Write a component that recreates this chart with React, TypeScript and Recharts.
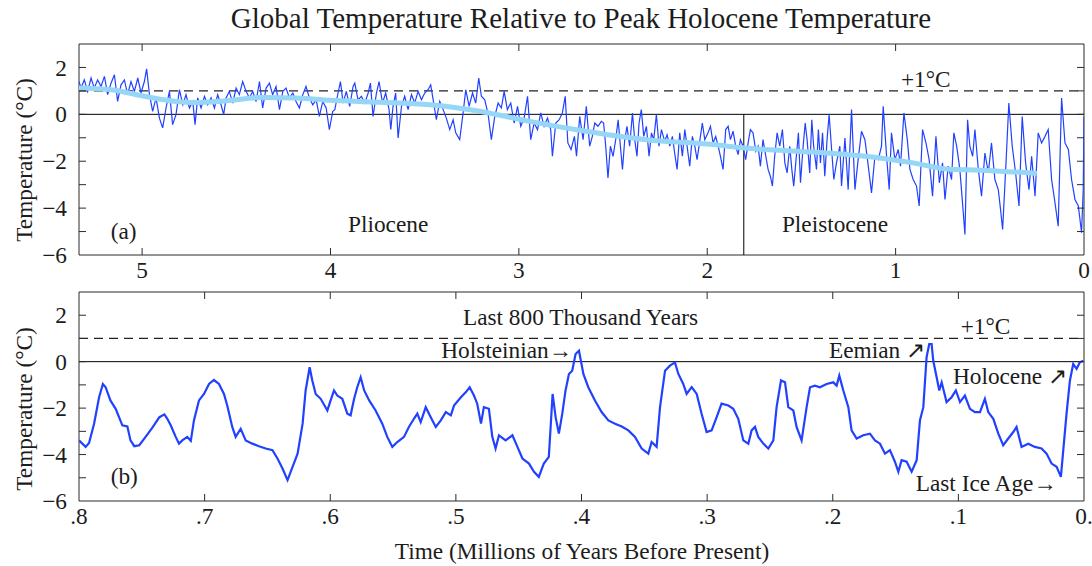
import { LineChart, Line, XAxis, YAxis, ReferenceLine, ReferenceArea, ReferenceDot } from 'recharts'

// Pliocene–Pleistocene record, [age Ma, temperature °C relative to peak Holocene]
const last5MaRecord: [number, number][] = [
  [5.335, 1.4], [5.324, 1.12], [5.307, 1.47], [5.289, 0.98], [5.271, 1.55], [5.254, 1.12], [5.236, 1.47], [5.218, 1.19],
  [5.2, 1.62], [5.183, 0.84], [5.165, 1.33], [5.147, 1.69], [5.13, 0.55], [5.112, 1.26], [5.094, 1.47], [5.077, 0.84],
  [5.059, 1.4], [5.041, 0.98], [5.023, 1.55], [5.006, 0.91], [4.988, 1.4], [4.976, 1.94], [4.961, 0.84], [4.944, 0.13],
  [4.926, 0.7], [4.908, -0.16], [4.891, -0.58], [4.873, 0.27], [4.855, 0.98], [4.838, -0.44], [4.82, -0.01], [4.802, 1.05],
  [4.784, 0.41], [4.767, 0.84], [4.749, 0.27], [4.731, 0.55], [4.719, -0.44], [4.705, 0.7], [4.687, 0.27], [4.669, 0.77],
  [4.652, 0.41], [4.634, 0.7], [4.616, 0.27], [4.599, 0.84], [4.581, 0.41], [4.567, -0.01], [4.554, 0.7], [4.537, 0.98],
  [4.519, 0.48], [4.501, 1.12], [4.484, 0.84], [4.466, 1.4], [4.448, 0.98], [4.43, 0.7], [4.413, 0.98], [4.395, 0.55],
  [4.377, 1.4], [4.36, 0.27], [4.342, 1.12], [4.324, 1.33], [4.307, 0.84], [4.289, 1.19], [4.271, 0.2], [4.253, 0.98],
  [4.236, 1.12], [4.218, 0.7], [4.2, 0.91], [4.183, 0.55], [4.165, 0.27], [4.147, 0.84], [4.13, 1.19], [4.112, 0.7],
  [4.094, 0.41], [4.076, 0.62], [4.059, -0.09], [4.041, 0.55], [4.023, 0.27], [4.006, -0.65], [3.988, 0.13],
  [3.977, 0.2], [3.96, 0.91], [3.947, 1.4], [3.933, 0.48], [3.916, 0.98], [3.898, 0.34], [3.88, 1.19], [3.871, 1.33],
  [3.854, 0.62], [3.836, 0.77], [3.818, 0.48], [3.8, 0.91], [3.788, 1.33], [3.774, -0.09], [3.756, 0.91], [3.742, 1.4],
  [3.724, 0.48], [3.707, 0.91], [3.689, 0.2], [3.68, -0.65], [3.668, 0.34], [3.654, 0.91], [3.641, -1.01], [3.623, 0.34],
  [3.606, 0.77], [3.588, 0.2], [3.57, 0.84], [3.553, 0.48], [3.535, 0.98], [3.517, 0.62], [3.5, 0.91], [3.482, 1.05],
  [3.468, 1.26], [3.452, 0.48], [3.438, -0.23], [3.42, 0.55], [3.402, 0.2], [3.385, -0.16], [3.367, -0.65], [3.349, -0.23],
  [3.335, -0.79], [3.314, -1.08], [3.296, 0.06], [3.282, 1.05], [3.264, 0.34], [3.246, 0.91], [3.229, 0.48], [3.213, 1.55],
  [3.199, 0.77], [3.181, 0.62], [3.163, -0.01], [3.146, -1.08], [3.128, -0.09], [3.11, 0.48], [3.093, 0.27], [3.078, 0.98],
  [3.061, 0.2], [3.043, 0.48], [3.025, -0.37], [3.007, 0.34], [2.99, -0.51], [2.972, -0.16], [2.954, 0.77], [2.937, -1.08],
  [2.919, -0.37], [2.901, -0.65], [2.884, 0.06], [2.866, -0.51], [2.848, -0.16], [2.831, -0.65], [2.822, -1.79], [2.804, -0.37],
  [2.786, -0.23], [2.769, 0.06], [2.754, 0.77], [2.74, -1.22], [2.723, -1.5], [2.705, -0.94], [2.694, -1.79], [2.677, -0.09],
  [2.659, -1.08], [2.642, 0.34], [2.624, -1.36], [2.61, -0.94], [2.597, -0.37], [2.58, -0.51], [2.562, -0.3], [2.55, -0.37],
  [2.539, -1.36], [2.527, -2.71], [2.514, -1.36], [2.5, -1.79], [2.486, -1.08], [2.473, -0.23], [2.461, -1.36], [2.45, -2.35],
  [2.438, -1.08], [2.426, -0.51], [2.412, -1.36], [2.397, 0.06], [2.385, -1.08], [2.373, -1.79], [2.362, -0.37], [2.35, 0.2],
  [2.337, -0.94], [2.323, -0.51], [2.309, -1.79], [2.296, -0.79], [2.284, -1.08], [2.27, -0.01], [2.256, -1.36], [2.243, -0.65],
  [2.226, -1.15], [2.213, -0.87], [2.199, -1.36], [2.185, -0.94], [2.173, -1.65], [2.16, -2.35], [2.146, -0.79], [2.132, -1.79],
  [2.119, -0.65], [2.107, -1.36], [2.093, -2.21], [2.079, -0.94], [2.066, -1.36], [2.054, -1.93], [2.04, -1.15], [2.026, -0.37],
  [2.013, -1.08], [1.996, -0.79], [1.983, -0.51], [1.969, -1.22], [1.955, -0.94], [1.942, -1.36], [1.93, -1.79], [1.916, -2.35],
  [1.902, -0.65], [1.889, -0.51], [1.877, -1.08], [1.863, -0.72], [1.849, -1.36], [1.836, -1.72], [1.824, -1.08], [1.81, -1.36],
  [1.796, -1.93], [1.783, -1.22], [1.771, -0.65], [1.757, -0.79], [1.742, -1.57], [1.73, -1.36], [1.718, -2.21], [1.704, -1.08],
  [1.689, -1.79], [1.677, -2.35], [1.665, -2.64], [1.654, -3.06], [1.642, -1.79], [1.629, -0.79], [1.615, -1.36], [1.601, -0.65],
  [1.588, -2.07], [1.576, -2.5], [1.562, -1.36], [1.551, -2.35], [1.541, -3.06], [1.527, -1.79], [1.516, -0.79], [1.505, -2.92],
  [1.491, -1.36], [1.48, -0.37], [1.47, -1.08], [1.456, -2.5], [1.445, -0.23], [1.435, -1.36], [1.42, -2.35], [1.41, -0.65],
  [1.399, -2.07], [1.388, -0.79], [1.376, -2.64], [1.364, -1.08], [1.353, -0.01], [1.341, -1.36], [1.328, -2.78],
  [1.314, -2.07], [1.296, -1.36], [1.287, -3.06], [1.269, -1.01], [1.252, -3.21], [1.234, 0.2], [1.216, -3.21], [1.199, -1.93],
  [1.181, -0.72], [1.163, -1.08], [1.145, -2.21], [1.128, -3.35], [1.11, -1.79], [1.092, -1.93], [1.075, -1.36], [1.066, 0.34],
  [1.048, -1.79], [1.034, -3.21], [1.022, -0.79], [1.004, -1.93], [0.986, -1.5], [0.974, -2.21], [0.956, 0.06], [0.938, -1.08],
  [0.924, -2.35], [0.907, -2.78], [0.889, -3.06], [0.875, -3.91], [0.857, -0.65], [0.839, -1.22], [0.822, -1.93], [0.804, -3.49],
  [0.786, -0.94], [0.768, -2.92], [0.751, -2.07], [0.738, -3.63], [0.721, -2.21], [0.703, -2.78], [0.691, -0.79], [0.676, -1.36],
  [0.659, -2.35], [0.645, -3.77], [0.632, -5.12], [0.618, -0.23], [0.606, -1.36], [0.591, -1.79], [0.579, -0.65], [0.561, -2.35],
  [0.544, -3.49], [0.526, -1.65], [0.508, -2.5], [0.491, -1.22], [0.473, -2.78], [0.455, -3.21], [0.443, -4.06], [0.432, -4.91],
  [0.414, -2.07], [0.399, 0.48], [0.381, -1.36], [0.363, -2.5], [0.345, -3.91], [0.328, -0.09], [0.31, -2.07], [0.292, -3.21],
  [0.278, -1.79], [0.26, -3.49], [0.243, -0.79], [0.225, -1.22], [0.207, -0.94], [0.19, -0.65], [0.172, -2.78], [0.154, -3.77],
  [0.137, -4.77], [0.119, 0.7], [0.101, -1.22], [0.083, -1.5], [0.066, -2.78], [0.048, -3.63], [0.03, -3.91], [0.013, -5.05],
  [0.004, -3.2], [0, -0.1],
]

// smoothed long-term trend, [age Ma, °C]
const last5MaTrend: [number, number][] = [
  [5.335, 1.12], [5.165, 1.05], [4.988, 0.77], [4.82, 0.55], [4.73, 0.5], [4.55, 0.58], [4.36, 0.72], [4.18, 0.7],
  [4.004, 0.6], [3.739, 0.52], [3.473, 0.41], [3.207, 0.13], [3.119, -0.01], [2.942, -0.3], [2.677, -0.68], [2.323, -1.08],
  [1.969, -1.29], [1.81, -1.43], [1.323, -1.67], [1.083, -1.86], [0.907, -2.07], [0.73, -2.33], [0.553, -2.38], [0.25, -2.52],
]

// last 800 thousand years, [age ka, °C]
const last800kaRecord: [number, number][] = [
  [800, -3.39], [794.7, -3.67], [792, -3.5], [788, -2.67], [784, -1.53], [781, -0.96], [778.8, -1.1], [775, -1.67],
  [770.8, -2.03], [765.5, -2.74], [761.5, -2.79], [759, -3.39], [756, -3.64], [752, -3.6], [747, -3.24], [741.6, -2.84],
  [736, -2.39], [732, -2.27], [729.7, -2.46], [727, -2.74], [723, -3.24], [720.4, -3.53], [717.8, -3.39], [713.8, -3.24],
  [711, -3.41], [708.5, -2.53], [704.5, -1.67], [700.5, -1.39], [696.5, -0.96], [692.6, -0.79], [688.6, -0.96], [684.6, -1.39],
  [682, -1.89], [678, -2.81], [675.3, -3.24], [671.3, -2.89], [667.3, -3.39], [662, -3.53], [656.7, -3.64], [651.4, -3.74],
  [646, -3.81], [642, -4.17], [638, -4.6], [634, -5.1], [630, -4.53], [626, -3.96], [622, -2.67], [619.6, -1.24],
  [616.4, -0.24], [614.3, -0.81], [611.6, -1.39], [607.6, -1.6], [602.3, -2.1], [599.7, -1.67], [597, -1.24], [594.4, -1.46],
  [590.4, -1.6], [586.4, -2.24], [583.8, -2.31], [581, -1.6], [578.5, -1.1], [575.8, -0.67], [573, -1.24], [569, -1.67],
  [563.9, -2.1], [558.6, -2.67], [554.6, -3.24], [550.6, -3.67], [546.6, -3.46], [541.3, -3.24], [537.4, -2.81], [533.4, -2.46],
  [530.7, -2.24], [528, -2.6], [524, -1.96], [520, -2.39], [516, -2.81], [512, -2.53], [508, -2.17], [504, -2.31],
  [501.5, -1.89], [496, -1.53], [492, -1.31], [489, -1.1], [485.6, -1.46], [483, -1.81], [480, -2.67], [477.7, -1.96],
  [473.7, -2.03], [471, -3.24], [468.4, -3.74], [465.7, -3.17], [460.4, -3.39], [455, -3.17], [451, -3.67], [447, -4.17],
  [441.8, -4.39], [437.8, -4.74], [434, -4.96], [430, -4.39], [426, -4.1], [423, -1.39], [420.6, -2.39], [418, -3.1],
  [415.3, -2.24], [412.7, -1.24], [410, -0.53], [407.4, -0.39], [404.7, 0.33], [402, 0.47], [398.5, -0.53], [394.6, -1.1],
  [389.3, -1.67], [384, -2.17], [378.6, -2.53], [373.3, -2.67], [368, -2.79], [362.7, -2.96], [357.4, -3.24], [352.1, -3.74],
  [346.8, -3.96], [344.2, -3.46], [340.2, -3.67], [337.5, -1.96], [333.5, -0.39], [329.6, -0.17], [325.6, -0.03], [322.9, -0.53],
  [319, -0.96], [316.3, -1.39], [312.3, -1.1], [308.3, -1.39], [304.4, -2.24], [300.4, -3.03], [296.4, -2.96], [292.4, -2.39],
  [288.5, -1.81], [283.1, -1.89], [279.2, -2.03], [275.2, -2.46], [271.2, -3.39], [267.2, -3.53], [264.6, -2.96], [261.9, -2.81],
  [259.3, -3.24], [255.3, -3.53], [251.3, -3.74], [247.3, -3.39], [244.7, -1.96], [241.2, -0.81], [238, -0.89], [235.4, -1.96],
  [231.4, -2.1], [228.8, -2.81], [224.8, -3.39], [220.8, -1.96], [218.1, -1.1], [214.2, -1.03], [210.2, -1.1], [204.9, -0.96],
  [199.6, -0.89], [196.9, -1.03], [194.8, -0.6], [191.6, -1.24], [187.6, -1.96], [185, -2.96], [181, -3.31], [175.7, -3.17],
  [170.4, -3.1], [166.4, -3.39], [162.4, -3.53], [158.4, -3.96], [154.5, -3.81], [150.5, -4.31], [147.8, -4.74], [145.2, -4.24],
  [141.2, -4.31], [137.2, -4.74], [133.2, -4.24], [130.6, -2.53], [127.9, -1.96], [125.3, 0.19], [123.2, 0.76], [121.3, 0.76],
  [120, 0.04], [117.3, -0.67], [115.2, -1.24], [113.3, -0.89], [109.4, -1.74], [105.4, -1.53], [102, -1.24], [98.7, -1.74],
  [94.8, -1.46], [90.8, -2.03], [86.8, -2.17], [82.8, -2.17], [78.9, -1.6], [76.2, -2.17], [72.2, -2.46], [68.2, -3.1],
  [64.3, -3.6], [60.3, -3.31], [56.3, -3.03], [53.7, -2.81], [49.7, -3.67], [44.4, -3.53], [39.1, -3.67], [33.8, -3.74],
  [29.8, -3.96], [25.8, -4.39], [21.8, -4.53], [18.4, -4.96], [16.5, -3.81], [13.9, -2.24], [11.2, -0.81], [8.6, -0.1],
  [5.9, -0.31], [3.3, -0.03], [0.6, 0.04],
]

const tempTicks = [3, 2, 1, 0, -1, -2, -3, -4, -5, -6]
const tempLabelledTicks = [2, 0, -2, -4, -6]
const topAgeTicks = [5, 4, 3, 2, 1, 0]
const bottomAgeTicks = [800, 700, 600, 500, 400, 300, 200, 100, 0]
const bottomAgeLabels = ['.8', '.7', '.6', '.5', '.4', '.3', '.2', '.1', '0.']

const TOP_AGE_MAX = 5.335
const PLEISTOCENE_START = 1.806

const topData = last5MaRecord.map(([age, t]) => ({ age, t }))
const trendData = last5MaTrend.map(([age, t]) => ({ age, t }))
const bottomData = last800kaRecord.map(([age, t]) => ({ age, t }))

const FONT = '"Liberation Serif", "Times New Roman", serif'
const FS = 23.3
const INK = '#1c1c1c'
const FRAME = '#2b2b2b'
const BLUE = '#2141ff'
const LIGHT = '#96d6f7'
const PLOT_LEFT = 79
const PLOT_RIGHT = 1084

const minus = (v: number) => (v < 0 ? '\u2212' + Math.abs(v) : String(v))

const yTick = (props: any) => {
  const { y, payload } = props
  const v = payload.value as number
  const edge = v === 3 || v === -6
  return (
    <g>
      {!edge && <line x1={PLOT_LEFT} x2={PLOT_LEFT + 7} y1={y} y2={y} stroke={FRAME} />}
      {!edge && <line x1={PLOT_RIGHT - 7} x2={PLOT_RIGHT} y1={y} y2={y} stroke={FRAME} />}
      {tempLabelledTicks.includes(v) && (
        <text x={PLOT_LEFT - 12} y={y} dy="0.35em" textAnchor="end" fontFamily={FONT} fontSize={FS} fill={INK}>
          {minus(v)}
        </text>
      )}
    </g>
  )
}

// plotTop / plotBottom are in the chart's own svg coordinates
const makeXTick = (plotTop: number, plotBottom: number, label: (v: number) => string) => (props: any) => {
  const { x, payload } = props
  const v = payload.value as number
  const edge = x <= PLOT_LEFT + 1 || x >= PLOT_RIGHT - 1
  return (
    <g>
      {!edge && <line x1={x} x2={x} y1={plotBottom} y2={plotBottom - 7} stroke={FRAME} />}
      {!edge && <line x1={x} x2={x} y1={plotTop} y2={plotTop + 7} stroke={FRAME} />}
      <text x={x} y={plotBottom + 23} textAnchor="middle" fontFamily={FONT} fontSize={FS} fill={INK}>
        {label(v)}
      </text>
    </g>
  )
}

const Note = (props: any) => {
  const vb = props.viewBox || {}
  const x = (vb.x ?? 0) + (vb.width ?? 0) / 2
  const y = (vb.y ?? 0) + (vb.height ?? 0) / 2
  return (
    <text x={x} y={y} textAnchor={props.anchor || 'middle'} fontFamily={FONT} fontSize={FS} fill={INK}>
      {props.text}
    </text>
  )
}

const note = (x: number, y: number, text: string, anchor = 'middle') => (
  <ReferenceDot key={text} x={x} y={y} r={0} fill="none" stroke="none" label={<Note text={text} anchor={anchor} />} />
)

const yLabelStyle = (centerY: number): React.CSSProperties => ({
  position: 'absolute',
  left: 24 - 150,
  top: centerY - 15,
  width: 300,
  height: 30,
  lineHeight: '30px',
  textAlign: 'center',
  fontSize: FS,
  transform: 'rotate(-90deg)',
})

export default function App() {
  return (
    <div style={{ position: 'absolute', left: 0, top: 0, width: 1092, height: 566, background: '#fff', fontFamily: FONT, color: INK }}>
      <div style={{ position: 'absolute', left: 581 - 450, top: 3, width: 900, textAlign: 'center', fontSize: 29, lineHeight: '30px' }}>
        Global Temperature Relative to Peak Holocene Temperature
      </div>

      <div style={yLabelStyle(160)}>Temperature (°C)</div>
      <div style={yLabelStyle(409)}>Temperature (°C)</div>

      <div style={{ position: 'absolute', left: 0, top: 0 }}>
        <LineChart width={1092} height={285} margin={{ top: 44, right: 8, left: 0, bottom: 0 }}>
          <XAxis
            type="number"
            dataKey="age"
            domain={[0, TOP_AGE_MAX]}
            reversed
            allowDataOverflow
            ticks={topAgeTicks}
            interval={0}
            height={30}
            axisLine={false}
            tickLine={false}
            tick={makeXTick(44, 255, (v) => String(v))}
          />
          <YAxis
            type="number"
            domain={[-6, 3]}
            allowDataOverflow
            ticks={tempTicks}
            interval={0}
            width={79}
            axisLine={false}
            tickLine={false}
            tick={yTick}
          />
          <ReferenceLine y={1} stroke="#222" strokeWidth={1.2} strokeDasharray="9 6" />
          <ReferenceLine y={0} stroke="#000" />
          <ReferenceLine segment={[{ x: PLEISTOCENE_START, y: 0 }, { x: PLEISTOCENE_START, y: -6 }]} stroke="#000" />
          <Line data={topData} dataKey="t" type="linear" stroke={BLUE} strokeWidth={1.2} dot={false} isAnimationActive={false} />
          <Line data={trendData} dataKey="t" type="monotone" stroke={LIGHT} strokeWidth={5} dot={false} isAnimationActive={false} />
          <ReferenceArea x1={0} x2={TOP_AGE_MAX} y1={-6} y2={3} fill="none" stroke={FRAME} />
          {note(0.84, 1.18, '+1°C')}
          {note(5.098, -5.33, '(a)')}
          {note(3.694, -5.03, 'Pliocene')}
          {note(1.322, -5.03, 'Pleistocene')}
        </LineChart>
      </div>

      <div style={{ position: 'absolute', left: 0, top: 285 }}>
        <LineChart width={1092} height={281} margin={{ top: 7, right: 8, left: 0, bottom: 0 }}>
          <XAxis
            type="number"
            dataKey="age"
            domain={[0, 800]}
            reversed
            allowDataOverflow
            ticks={bottomAgeTicks}
            interval={0}
            height={65}
            axisLine={false}
            tickLine={false}
            tick={makeXTick(7, 216, (v) => bottomAgeLabels[bottomAgeTicks.indexOf(v)])}
          />
          <YAxis
            type="number"
            domain={[-6, 3]}
            allowDataOverflow
            ticks={tempTicks}
            interval={0}
            width={79}
            axisLine={false}
            tickLine={false}
            tick={yTick}
          />
          <ReferenceLine y={1} stroke="#222" strokeWidth={1.2} strokeDasharray="9 6" />
          <ReferenceLine y={0} stroke="#000" />
          <Line data={bottomData} dataKey="t" type="linear" stroke={BLUE} strokeWidth={2.2} dot={false} isAnimationActive={false} />
          <ReferenceArea x1={0} x2={800} y1={-6} y2={3} fill="none" stroke={FRAME} />
          {note(400.8, 1.59, 'Last 800 Thousand Years')}
          {note(78.4, 1.19, '+1°C')}
          {note(407.6, 0.16, 'Holsteinian\u2192', 'end')}
          {note(126.6, 0.16, 'Eemian \u2197', 'end')}
          {note(13.5, -0.96, 'Holocene \u2197', 'end')}
          {note(21.7, -5.56, 'Last Ice Age\u2192', 'end')}
          {note(764, -5.26, '(b)')}
        </LineChart>
      </div>

      <div style={{ position: 'absolute', left: 582 - 300, top: 538, width: 600, textAlign: 'center', fontSize: FS, lineHeight: '26px' }}>
        Time (Millions of Years Before Present)
      </div>
    </div>
  )
}
